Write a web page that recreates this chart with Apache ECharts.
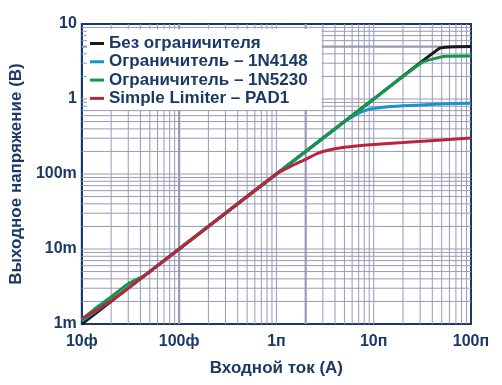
<!DOCTYPE html>
<html><head><meta charset="utf-8">
<script src="https://cdn.jsdelivr.net/npm/echarts@6/dist/echarts.min.js"></script>
<style>html,body{margin:0;padding:0;background:#fff}#c{width:502px;height:385px}</style>
</head><body><div id="c"></div>
<script>
const xTickLabels = ['10ф','100ф','1п','10п','100п'];
const yTickLabels = ['1m','10m','100m','1','10'];
const seriesNames = ['Без ограничителя','Ограничитель – 1N4148','Ограничитель – 1N5230','Simple Limiter – PAD1'];

const noLimI = [1e-14, 1e-13, 1e-12, 1e-11, 4.75e-11, 6e-11, 1e-10];
const noLimV = [1e-3, 1e-2, 0.1, 1, 4.75, 4.95, 5.0];

const d4148I = [1e-14, 2e-14, 1e-13, 1e-12, 4.5e-12, 5.5e-12, 7e-12, 9e-12, 1.2e-11, 2e-11, 3e-11, 5e-11, 1e-10];
const d4148V = [1.1e-3, 2.05e-3, 0.01, 0.1, 0.45, 0.54, 0.65, 0.73, 0.77, 0.81, 0.83, 0.86, 0.875];

const d5230I = [1e-14, 1.5e-14, 2e-14, 3e-14, 4.5e-14, 1e-13, 1e-12, 1e-11, 3.1e-11, 4e-11, 5.5e-11, 1e-10];
const d5230V = [1.15e-3, 1.75e-3, 2.3e-3, 3.45e-3, 4.5e-3, 0.01, 0.1, 1, 3.05, 3.4, 3.72, 3.74];

const padI = [1e-14, 1.5e-14, 2e-14, 3e-14, 1e-13, 1e-12, 1.5e-12, 2e-12, 2.5e-12, 3e-12, 5e-12, 1e-11, 2e-11, 5e-11, 1e-10];
const padV = [1.18e-3, 1.6e-3, 2.05e-3, 3.0e-3, 0.01, 0.1, 0.132, 0.157, 0.182, 0.2, 0.227, 0.248, 0.263, 0.284, 0.302];

const xDecades = [1e-14, 1e-13, 1e-12, 1e-11];
const yDecades = [1e-3, 1e-2, 1e-1, 1];
const mantissas = [1,2,3,4,5,6,7,8,9];
const thickX = [1e-13, 2e-12];
const thickY = [5];

const navy = '#1b3966';
const gridC = '#989ab6';
const font = '"Liberation Sans", Arial, sans-serif';

function pairs(xs, ys){ return xs.map((x,i)=>[x, ys[i]]); }
const isThick = (arr, v) => arr.some(t => Math.abs(t - v) / t < 1e-6);

const thinGrid = [], thickGrid = [];
xDecades.forEach(d => mantissas.forEach(m => {
  const v = d * m;
  if (v <= 1e-14 * 1.01) return;
  const tgt = isThick(thickX, v) ? thickGrid : thinGrid;
  tgt.push([v, 1e-3], [v, 10], '-');
}));
yDecades.forEach(d => mantissas.forEach(m => {
  const v = d * m;
  if (v <= 1e-3 * 1.01) return;
  const tgt = isThick(thickY, v) ? thickGrid : thinGrid;
  tgt.push([1e-14, v], [1e-10, v], '-');
}));

function lbl(arr, base){ return v => arr[Math.round(Math.log10(v)) - base] || ''; }

const colors = ['#1a1a1a','#1a93c6','#14974a','#b8263e'];
const datas = [pairs(noLimI,noLimV), pairs(d4148I,d4148V), pairs(d5230I,d5230V), pairs(padI,padV)];

const series = [
  {type:'line', data:thinGrid, z:1, silent:true, symbol:'none', connectNulls:false,
   lineStyle:{color:gridC, width:1}},
  {type:'line', data:thickGrid, z:1, silent:true, symbol:'none', connectNulls:false,
   lineStyle:{color:gridC, width:2.2}}
];
seriesNames.forEach((n,i)=>series.push({
  name:n, type:'line', data:datas[i], symbol:'none', smooth:0.15, z:2,
  lineStyle:{color:colors[i], width:3}, itemStyle:{color:colors[i]}
}));

const chart = echarts.init(document.getElementById('c'));
chart.setOption({
  animation:false,
  backgroundColor:'#fff',
  grid:{left:77, right:31, top:24, bottom:61, show:true, backgroundColor:'#fff', borderColor:navy, borderWidth:2},
  legend:{
    data:seriesNames, orient:'vertical', left:87, top:29, z:10,
    backgroundColor:'#fff', padding:[6,14,3,3], itemGap:1.3, itemWidth:14, itemHeight:3,
    icon:'rect', textStyle:{color:navy, fontFamily:font, fontWeight:'bold', fontSize:17, lineHeight:17}
  },
  xAxis:{type:'log', logBase:10, min:1e-14, max:1e-10,
    name:'Входной ток (А)', nameLocation:'middle', nameGap:36,
    nameTextStyle:{color:navy, fontFamily:font, fontWeight:'bold', fontSize:17},
    axisLine:{lineStyle:{color:navy, width:2}}, axisTick:{show:false}, splitLine:{show:false},
    axisLabel:{color:navy, fontFamily:font, fontWeight:'bold', fontSize:16, margin:10, formatter:lbl(xTickLabels,-14)}
  },
  yAxis:{type:'log', logBase:10, min:1e-3, max:10,
    name:'Выходное напряжение (В)', nameLocation:'middle', nameGap:40,
    nameTextStyle:{color:navy, fontFamily:font, fontWeight:'bold', fontSize:17},
    axisLine:{lineStyle:{color:navy, width:2}}, axisTick:{show:false}, splitLine:{show:false},
    axisLabel:{color:navy, fontFamily:font, fontWeight:'bold', fontSize:16, margin:5, formatter:lbl(yTickLabels,-3)}
  },
  series: series
});
</script></body></html>
